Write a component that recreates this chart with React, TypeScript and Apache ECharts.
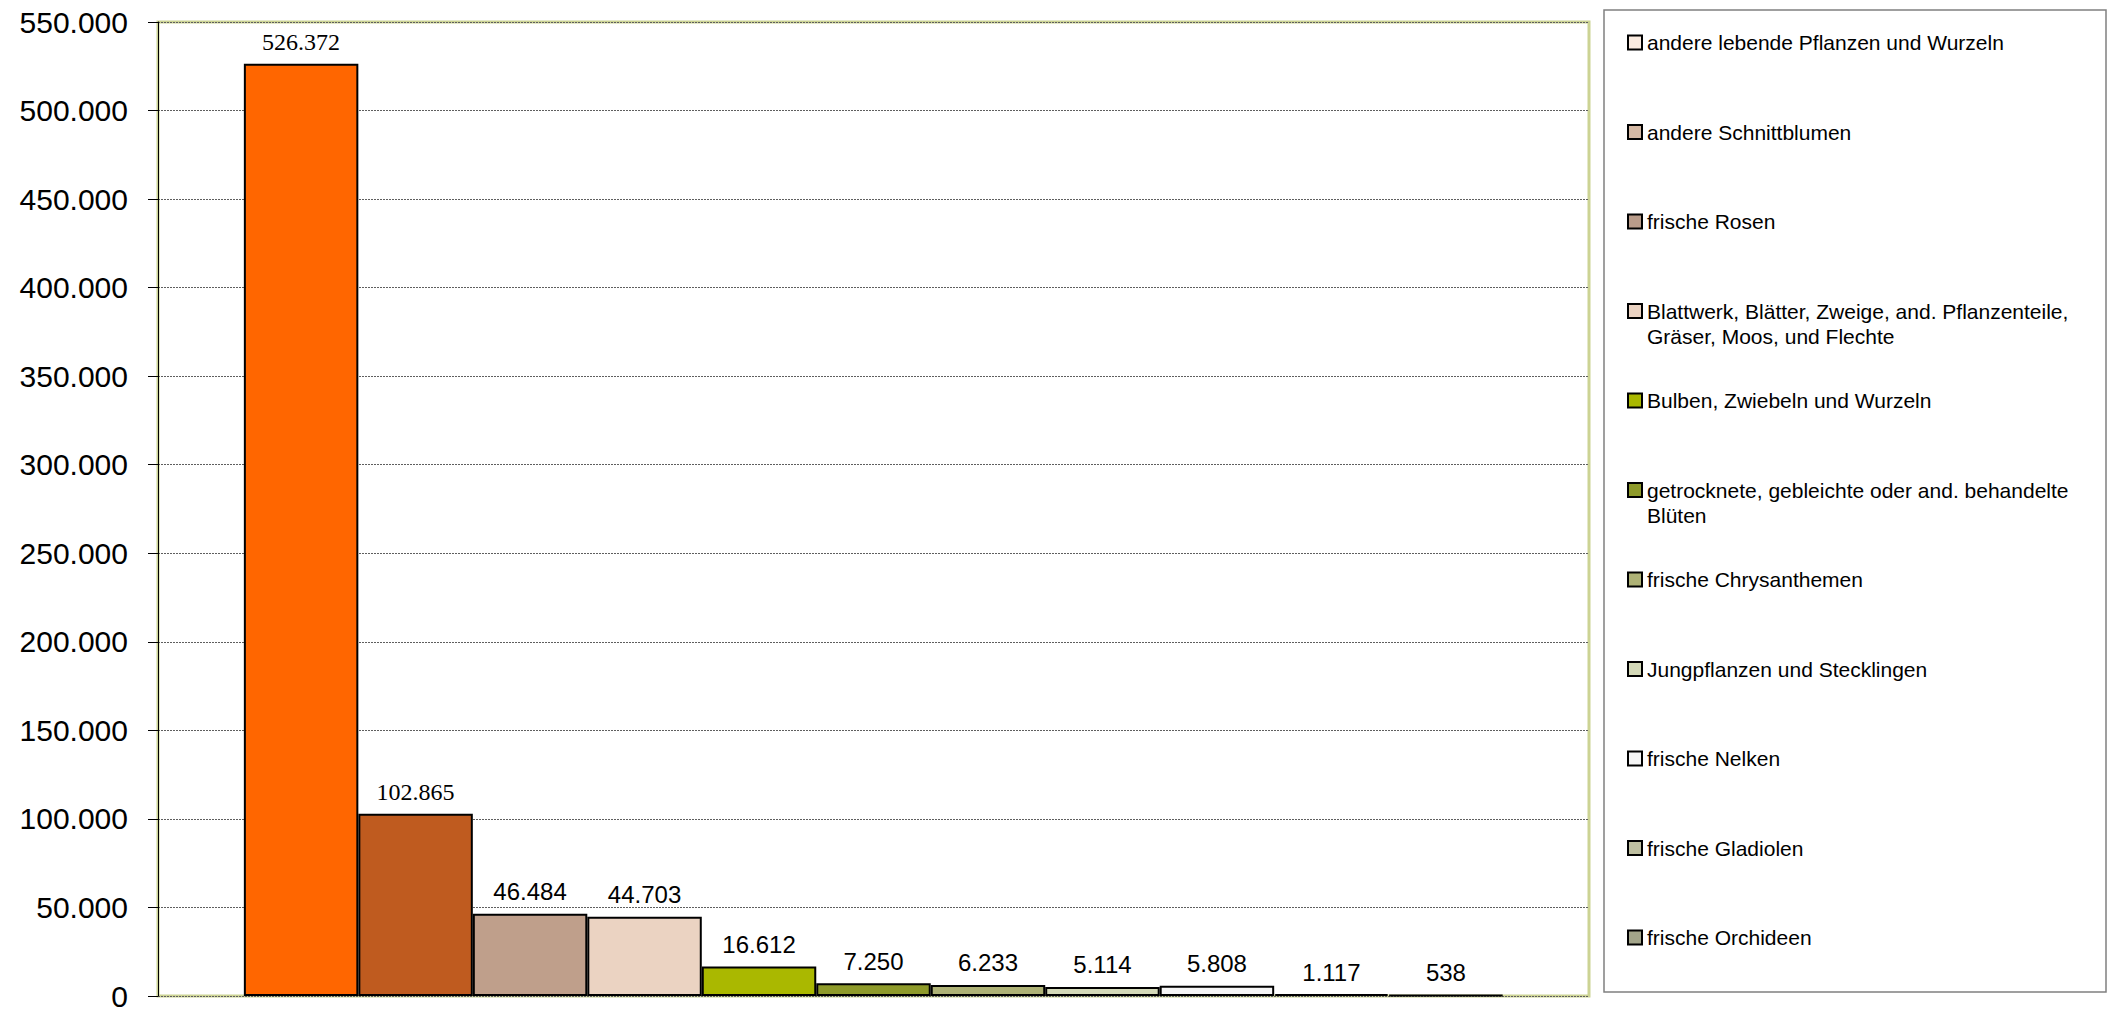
import React, { useEffect, useRef } from "react";
import * as echarts from "echarts";

const seriesNames: string[] = [
  "andere lebende Pflanzen und Wurzeln",
  "andere Schnittblumen",
  "frische Rosen",
  "Blattwerk, Blätter, Zweige, and. Pflanzenteile,\nGräser, Moos, und Flechte",
  "Bulben, Zwiebeln und Wurzeln",
  "getrocknete, gebleichte oder and. behandelte\nBlüten",
  "frische Chrysanthemen",
  "Jungpflanzen und Stecklingen",
  "frische Nelken",
  "frische Gladiolen",
  "frische Orchideen",
];

const values: number[] = [526372, 102865, 46484, 44703, 16612, 7250, 6233, 5114, 5808, 1117, 538];

const barColors: string[] = [
  "#FF6600",
  "#BF5B1F",
  "#BF9F8B",
  "#EBD3C2",
  "#AAB800",
  "#8E9A2A",
  "#AEB276",
  "#D4D9B8",
  "#F5F5F5",
  "#BEBFA0",
  "#A3A58A",
];

const legendIconColors: string[] = [
  "#FAEBE0",
  "#D5B9A4",
  "#B99C8A",
  "#EBD3C2",
  "#AAB800",
  "#8E9A2A",
  "#AEB276",
  "#D4D9B8",
  "#F5F5F5",
  "#BEBFA0",
  "#A3A58A",
];

const serifLabels: boolean[] = [true, true, false, false, false, false, false, false, false, false, false];

const yMin = 0;
const yMax = 550000;
const yInterval = 50000;

function fmt(v: number): string {
  return String(Math.round(v)).replace(/\B(?=(\d{3})+(?!\d))/g, ".");
}

export default function App() {
  const ref = useRef<HTMLDivElement>(null);

  useEffect(() => {
    if (!ref.current) return;
    const chart = echarts.init(ref.current, undefined, { renderer: "svg" });

    const series = seriesNames.map((name, i) => ({
      name,
      type: "bar",
      data: [values[i]],
      barGap: "0%",
      barCategoryGap: "12%",
      itemStyle: {
        color: barColors[i],
        borderColor: "#000000",
        borderWidth: 2,
      },
      label: {
        show: true,
        position: "top",
        distance: 10,
        formatter: (p: any) => fmt(p.value),
        fontSize: 24,
        color: "#000000",
        fontFamily: serifLabels[i] ? "Liberation Serif" : "Liberation Sans",
      },
      emphasis: { disabled: true },
    }));

    chart.setOption({
      animation: false,
      backgroundColor: "#ffffff",
      grid: {
        left: 158,
        right: 523,
        top: 22,
        bottom: 13,
        show: true,
        borderColor: "#CCD394",
        borderWidth: 3,
        containLabel: false,
      },
      xAxis: {
        type: "category",
        data: [""],
        axisLine: { show: false },
        axisTick: { show: false },
        axisLabel: { show: false },
        splitLine: { show: false },
      },
      yAxis: {
        type: "value",
        min: yMin,
        max: yMax,
        interval: yInterval,
        axisLine: { show: true, lineStyle: { color: "#000000", width: 1 } },
        axisTick: { show: true, length: 10, inside: false, lineStyle: { color: "#000000", width: 1 } },
        axisLabel: {
          formatter: (v: number) => fmt(v),
          fontSize: 30,
          color: "#000000",
          fontFamily: "Liberation Sans",
          margin: 30,
        },
        splitLine: {
          show: true,
          lineStyle: { color: "#5f5f5f", width: 1, type: [2, 1] },
        },
      },
      legend: {
        orient: "vertical",
        left: 1622,
        top: 0,
        itemWidth: 14,
        itemHeight: 14,
        itemGap: 14.5,
        icon: "rect",
        selectedMode: false,
        itemStyle: { borderColor: "#000000", borderWidth: 2 },
        textStyle: {
          fontSize: 21,
          lineHeight: 25,
          color: "#000000",
          fontFamily: "Liberation Sans",
        },
        formatter: (name: string) => {
          const parts = name.split("\n");
          if (parts.length > 1) return " \n" + parts[0] + "\n" + parts[1];
          return " \n" + name + "\n ";
        },
        data: seriesNames.map((name, i) => ({
          name,
          itemStyle: { color: legendIconColors[i], borderColor: "#000000", borderWidth: 2 },
        })),
      },
      graphic: [
        {
          type: "rect",
          shape: { x: 1604, y: 10, width: 2106 - 1604, height: 992 - 10 },
          style: { fill: "none", stroke: "#808080", lineWidth: 1.5 },
          silent: true,
          z: 0,
        },
      ],
      series,
    });

    return () => {
      chart.dispose();
    };
  }, []);

  return (
    <div
      ref={ref}
      style={{ position: "absolute", left: 0, top: 0, width: "2112px", height: "1011px" }}
    />
  );
}
